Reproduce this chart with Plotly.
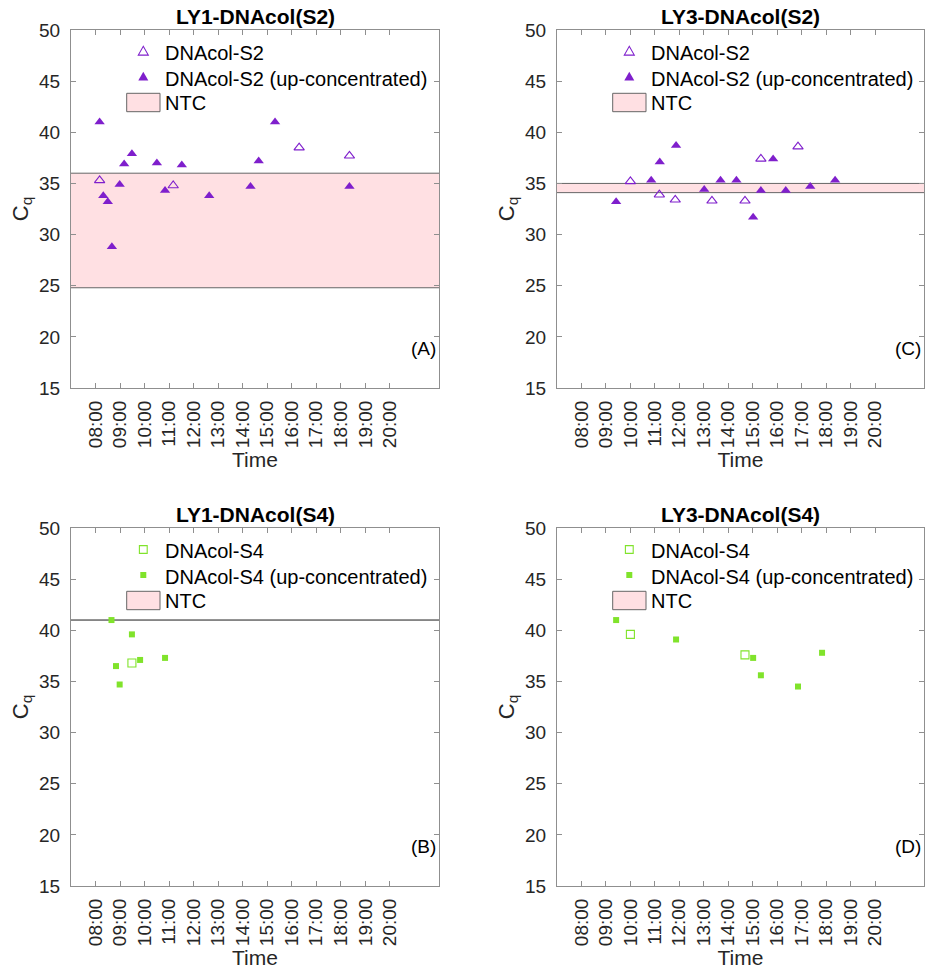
import plotly.graph_objects as go
from datetime import datetime

# ---- data: time of sampling (HH:MM) and Cq values ----
day = "2021-06-01"

ly1_s2_time = ["08:10", "11:10", "16:18", "18:21"]
ly1_s2_cq = [35.3, 34.8, 38.5, 37.7]
ly1_s2_up_time = ["08:10", "08:19", "08:30", "08:40", "08:59", "09:10", "09:29", "10:30",
                  "10:50", "11:31", "12:38", "14:19", "14:39", "15:19", "18:21"]
ly1_s2_up_cq = [41.0, 33.8, 33.2, 28.8, 34.9, 36.9, 37.9, 37.0,
                34.3, 36.8, 33.8, 34.7, 37.2, 41.0, 34.7]

ly3_s2_time = ["10:00", "11:11", "11:50", "13:20", "14:41", "15:20", "16:51"]
ly3_s2_cq = [35.2, 33.9, 33.4, 33.3, 33.3, 37.4, 38.6]
ly3_s2_up_time = ["09:25", "10:51", "11:12", "11:52", "13:01", "13:41", "14:20", "15:01",
                  "15:20", "15:50", "16:21", "17:21", "18:22"]
ly3_s2_up_cq = [33.2, 35.3, 37.1, 38.7, 34.4, 35.3, 35.3, 31.7,
                34.3, 37.4, 34.3, 34.7, 35.3]

ly1_s4_time = ["09:29"]
ly1_s4_cq = [36.8]
ly1_s4_up_time = ["08:39", "08:50", "08:59", "09:29", "09:49", "10:50"]
ly1_s4_up_cq = [41.0, 36.5, 34.7, 39.6, 37.1, 37.3]

ly3_s4_time = ["10:00", "14:41"]
ly3_s4_cq = [39.6, 37.6]
ly3_s4_up_time = ["09:25", "11:52", "15:01", "15:20", "16:51", "17:50"]
ly3_s4_up_cq = [41.0, 39.1, 37.3, 35.6, 34.5, 37.8]

# NTC range (low, high); None = no NTC amplification
ntc_ly1_s2 = (24.8, 36.0)
ntc_ly3_s2 = (34.1, 35.0)
ntc_ly1_s4 = (41.0, 41.0)
ntc_ly3_s4 = None

tick_hours = ["08:00", "09:00", "10:00", "11:00", "12:00", "13:00", "14:00",
              "15:00", "16:00", "17:00", "18:00", "19:00", "20:00"]
y_ticks = [15, 20, 25, 30, 35, 40, 45, 50]

PURPLE = "#7f1fcc"
GREEN = "#80e32b"
PINK = "#ffe0e3"
EDGE = "#666666"
AXIS = "#8f8f8f"
TEXT = "#262626"
FONT = "Liberation Sans, Helvetica, Arial, sans-serif"
W, H = 925, 970


def t(hhmm):
    return datetime.fromisoformat(f"{day} {hhmm}")


def px(x):
    return x / W


def py(y):
    return 1 - y / H


x_range = [t("07:00"), t("22:00")]
band_x = [t("06:00"), t("23:00")]

# panel boxes in pixels: left, right, top, bottom
panels = [
    dict(title="LY1-DNAcol(S2)", tag="(A)", label="DNAcol-S2", color=PURPLE, sym="triangle-up",
         t_open=ly1_s2_time, c_open=ly1_s2_cq, t_up=ly1_s2_up_time, c_up=ly1_s2_up_cq,
         ntc=ntc_ly1_s2, box=(71, 439, 30, 388)),
    dict(title="LY3-DNAcol(S2)", tag="(C)", label="DNAcol-S2", color=PURPLE, sym="triangle-up",
         t_open=ly3_s2_time, c_open=ly3_s2_cq, t_up=ly3_s2_up_time, c_up=ly3_s2_up_cq,
         ntc=ntc_ly3_s2, box=(557, 924, 30, 388)),
    dict(title="LY1-DNAcol(S4)", tag="(B)", label="DNAcol-S4", color=GREEN, sym="square",
         t_open=ly1_s4_time, c_open=ly1_s4_cq, t_up=ly1_s4_up_time, c_up=ly1_s4_up_cq,
         ntc=ntc_ly1_s4, box=(71, 439, 528, 886)),
    dict(title="LY3-DNAcol(S4)", tag="(D)", label="DNAcol-S4", color=GREEN, sym="square",
         t_open=ly3_s4_time, c_open=ly3_s4_cq, t_up=ly3_s4_up_time, c_up=ly3_s4_up_cq,
         ntc=ntc_ly3_s4, box=(557, 924, 528, 886)),
]

fig = go.Figure()
layout = dict(
    width=W, height=H, margin=dict(l=0, r=0, t=0, b=0, autoexpand=False),
    paper_bgcolor="white", plot_bgcolor="white", showlegend=False,
    font=dict(family=FONT, size=19, color=TEXT),
    annotations=[], shapes=[],
)


def legend_symbol(sym, filled, color, cx, cy):
    """Path of a legend marker centred at (cx, cy) in pixels."""
    if sym == "triangle-up":
        hw, up, dn = 5.0, 5.2, 3.6
        pts = [(cx - hw, cy + dn), (cx + hw, cy + dn), (cx, cy - up)]
    else:
        h = 3.0 if filled else 3.9
        pts = [(cx - h, cy - h), (cx + h, cy - h), (cx + h, cy + h), (cx - h, cy + h)]
    path = "M " + " L ".join(f"{px(a):.5f},{py(b):.5f}" for a, b in pts) + " Z"
    return dict(type="path", xref="paper", yref="paper", path=path,
                fillcolor=color if filled else "rgba(0,0,0,0)",
                line=dict(color=color, width=0 if filled else 1.1))


for i, p in enumerate(panels, start=1):
    sfx = "" if i == 1 else str(i)
    xa, ya = f"x{sfx}", f"y{sfx}"
    left, right, top, bottom = p["box"]
    tri = p["sym"] == "triangle-up"

    # NTC band (drawn first so the samples sit on top)
    if p["ntc"] is not None:
        lo, hi = p["ntc"]
        fig.add_trace(go.Scatter(
            x=[band_x[0], band_x[1], band_x[1], band_x[0], band_x[0]],
            y=[lo, lo, hi, hi, lo], mode="lines", fill="toself", fillcolor=PINK,
            line=dict(color=EDGE, width=1), name="NTC", hoverinfo="skip",
            xaxis=xa, yaxis=ya,
        ))
    fig.add_trace(go.Scatter(
        x=[t(s) for s in p["t_open"]], y=p["c_open"], mode="markers",
        marker=dict(symbol=p["sym"] + "-open", size=9 if tri else 8, color=p["color"],
                    line=dict(width=1.1, color=p["color"])),
        name=p["label"], xaxis=xa, yaxis=ya,
    ))
    fig.add_trace(go.Scatter(
        x=[t(s) for s in p["t_up"]], y=p["c_up"], mode="markers",
        marker=dict(symbol=p["sym"], size=9 if tri else 6, color=p["color"],
                    line=dict(width=0)),
        name=p["label"] + " (up-concentrated)", xaxis=xa, yaxis=ya,
    ))

    layout[f"xaxis{sfx}"] = dict(
        domain=[px(left), px(right)], anchor=ya, range=x_range, type="date",
        tickvals=[t(s) for s in tick_hours], ticktext=tick_hours, tickangle=-90,
        ticks="inside", ticklen=5, tickcolor=AXIS, showline=True, linecolor=AXIS,
        linewidth=1, mirror="ticks", showgrid=False, zeroline=False, automargin=False,
        tickfont=dict(size=19, color=TEXT), ticklabelstandoff=4,
        title=dict(text="Time", font=dict(size=21, color=TEXT), standoff=3),
    )
    layout[f"yaxis{sfx}"] = dict(
        domain=[py(bottom), py(top)], anchor=xa, range=[15, 50], tickvals=y_ticks,
        ticks="inside", ticklen=5, tickcolor=AXIS, showline=True, linecolor=AXIS,
        linewidth=1, mirror="ticks", showgrid=False, zeroline=False, automargin=False,
        tickfont=dict(size=19, color=TEXT), ticklabelstandoff=6,
        title=dict(text="C<sub>q</sub>", font=dict(size=22, color=TEXT), standoff=4),
    )

    # legend: marker / patch plus label for each entry
    mx, tx = left + 72.3, left + 92.3
    rows = [top + 22.5, top + 48.5, top + 73]
    layout["shapes"].append(legend_symbol(p["sym"], False, p["color"], mx, rows[0] - 1))
    layout["shapes"].append(legend_symbol(p["sym"], True, p["color"], mx, rows[1] - 1.5))
    layout["shapes"].append(dict(
        type="rect", xref="paper", yref="paper",
        x0=px(left + 55.7), x1=px(left + 89), y0=py(top + 81.7), y1=py(top + 63.3),
        fillcolor=PINK, line=dict(color=EDGE, width=1),
    ))
    for text, ry in zip([p["label"], p["label"] + " (up-concentrated)", "NTC"], rows):
        layout["annotations"].append(dict(
            text=text, xref="paper", yref="paper", x=px(tx), y=py(ry),
            xanchor="left", yanchor="middle", showarrow=False,
            font=dict(size=20, color="black"),
        ))

    layout["annotations"].append(dict(
        text=f"<b>{p['title']}</b>", xref=f"{xa} domain", yref=f"{ya} domain",
        x=0.5, y=1, yshift=0, xanchor="center", yanchor="bottom", showarrow=False,
        font=dict(size=21, color="black"),
    ))
    layout["annotations"].append(dict(
        text=p["tag"], xref=f"{xa} domain", yref=ya, x=1, y=18.9, xshift=-1,
        xanchor="right", yanchor="middle", showarrow=False,
        font=dict(size=19, color="black"),
    ))

fig.update_layout(**layout)
fig.write_html("out.html")
